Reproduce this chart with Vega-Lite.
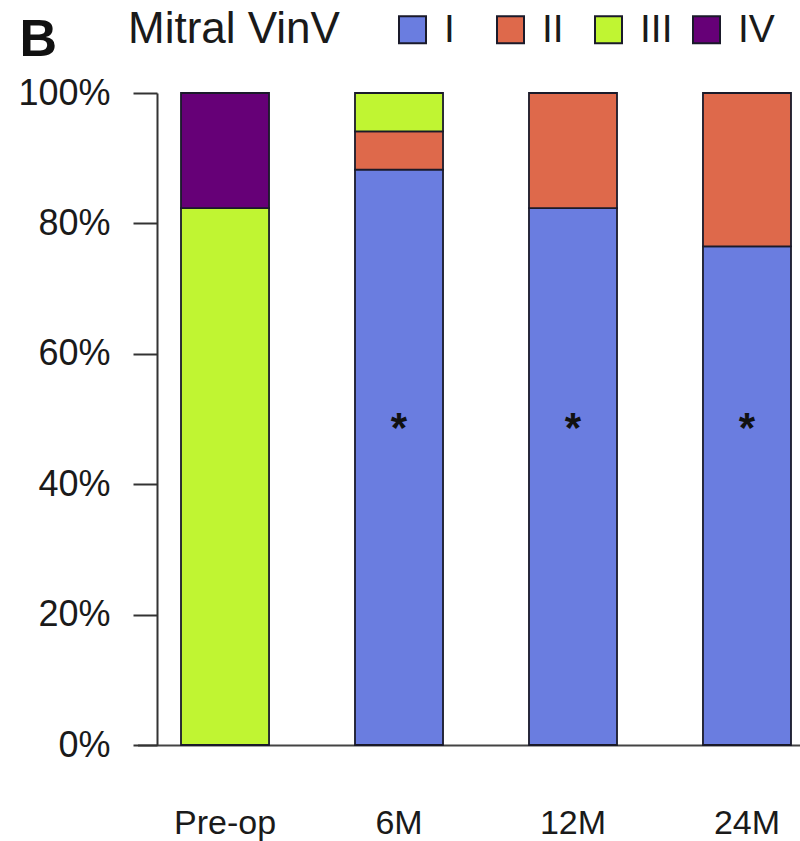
{
  "$schema": "https://vega.github.io/schema/vega-lite/v6.json",
  "autosize": "none",
  "width": 665,
  "height": 652,
  "padding": {"left": 135, "top": 93, "right": 0, "bottom": 96},
  "background": "white",
  "config": {
    "font": "Liberation Sans",
    "view": {"stroke": null}
  },
  "datasets": {
    "bars": [
      {"time": "Pre-op", "grade": "III", "share": 0.8235},
      {"time": "Pre-op", "grade": "IV", "share": 0.1765},
      {"time": "6M", "grade": "I", "share": 0.8824},
      {"time": "6M", "grade": "II", "share": 0.0588},
      {"time": "6M", "grade": "III", "share": 0.0588},
      {"time": "12M", "grade": "I", "share": 0.8235},
      {"time": "12M", "grade": "II", "share": 0.1765},
      {"time": "24M", "grade": "I", "share": 0.7647},
      {"time": "24M", "grade": "II", "share": 0.2353}
    ],
    "stars": [
      {"time": "6M", "sig": "*", "pos": 0.5},
      {"time": "12M", "sig": "*", "pos": 0.5},
      {"time": "24M", "sig": "*", "pos": 0.5}
    ]
  },
  "encoding": {
    "x": {
      "field": "time",
      "type": "nominal",
      "sort": ["Pre-op", "6M", "12M", "24M"],
      "scale": {"domain": ["Pre-op", "6M", "12M", "24M"], "range": [2.5, 699.5], "paddingInner": 0.494, "paddingOuter": 0.25},
      "axis": {
        "title": null,
        "labelAngle": 0,
        "labelFontSize": 34,
        "labelColor": "#1a1a1a",
        "labelPadding": 61,
        "ticks": false,
        "domainColor": "#444444",
        "domainWidth": 2
      }
    }
  },
  "layer": [
    {
      "data": {"name": "bars"},
      "mark": {"type": "bar", "stroke": "#1a1a2a", "strokeWidth": 1.8},
      "encoding": {
        "y": {
          "field": "share",
          "type": "quantitative",
          "stack": true,
          "scale": {"domain": [0, 1], "nice": false},
          "axis": {
            "title": "B",
            "titleAngle": 0,
            "titleFontSize": 52,
            "titleFontWeight": "bold",
            "titleColor": "#111111",
            "titleAlign": "left",
            "titleBaseline": "alphabetic",
            "titleX": -138,
            "titleY": -38,
            "values": [0, 0.2, 0.4, 0.6, 0.8, 1],
            "format": ".0%",
            "labelFontSize": 36,
            "labelColor": "#1a1a1a",
            "labelPadding": 23,
            "tickSize": 24,
            "tickColor": "#333333",
            "tickWidth": 2,
            "domainColor": "#333333",
            "domainWidth": 2,
            "grid": false,
            "offset": -22
          }
        },
        "color": {
          "field": "grade",
          "type": "nominal",
          "scale": {"domain": ["I", "II", "III", "IV"], "range": ["#6a7de0", "#de694b", "#c0f532", "#660077"]},
          "legend": {
            "title": "Mitral VinV",
            "orient": "none",
            "legendX": -7,
            "legendY": -83,
            "direction": "horizontal",
            "gridAlign": "all",
            "titleOrient": "left",
            "titleAngle": 0,
            "titleLimit": 400,
            "titleFontSize": 44,
            "titleFontWeight": "normal",
            "titleColor": "#1a1a1a",
            "titlePadding": 53,
            "titleBaseline": "middle",
            "symbolType": "square",
            "symbolSize": 729,
            "symbolStrokeColor": "#1a1a2a",
            "symbolStrokeWidth": 2,
            "symbolOpacity": 1,
            "labelFontSize": 39,
            "labelColor": "#1a1a1a",
            "labelOffset": 12,
            "columnPadding": 10
          }
        },
        "order": {"field": "grade", "type": "nominal", "sort": "ascending"}
      }
    },
    {
      "data": {"name": "stars"},
      "mark": {"type": "text", "fontSize": 42, "fontWeight": "bold", "color": "#111111", "baseline": "middle", "dy": 10},
      "encoding": {
        "y": {"field": "pos", "type": "quantitative"},
        "text": {"field": "sig", "type": "nominal"}
      }
    }
  ]
}
